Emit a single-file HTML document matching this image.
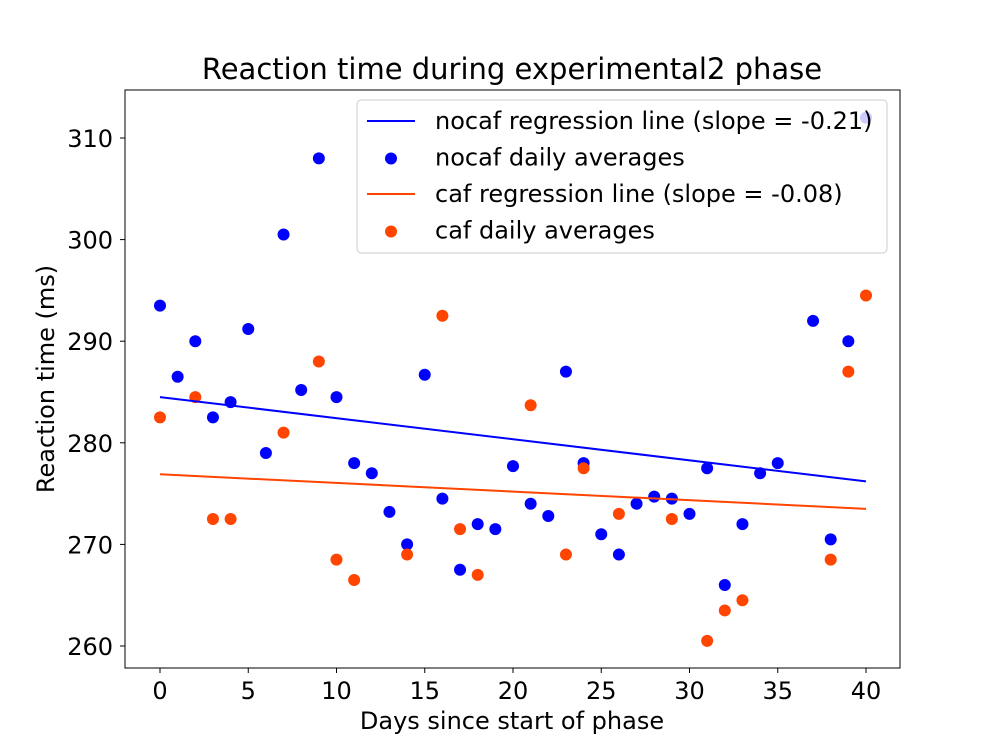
<!DOCTYPE html>
<html><head><meta charset="utf-8"><style>body{margin:0;background:#fff}svg text{font-family:"DejaVu Sans","Liberation Sans",sans-serif}</style></head>
<body>
<svg id="chart" width="1000" height="750">
<text x="512" y="79" font-size="29" text-anchor="middle">Reaction time during experimental2 phase</text>
<g id="plot"></g>
<rect x="125" y="90" width="775" height="578" fill="none" stroke="#000" stroke-width="1"/>
<text x="512" y="729" font-size="24" text-anchor="middle">Days since start of phase</text>
<text transform="translate(54,379) rotate(-90)" font-size="24" text-anchor="middle">Reaction time (ms)</text>
</svg>
<script>
const nocafDays=[0,1,2,3,4,5,6,7,8,9,10,11,12,13,14,15,16,17,18,19,20,21,22,23,24,25,26,27,28,29,30,31,32,33,34,35,37,38,39,40];
const nocafVals=[293.5,286.5,290,282.5,284,291.2,279,300.5,285.2,308,284.5,278,277,273.2,270,286.7,274.5,267.5,272,271.5,277.7,274,272.8,287,278,271,269,274,274.7,274.5,273,277.5,266,272,277,278,292,270.5,290,312];
const cafDays=[0,2,3,4,7,9,10,11,14,16,17,18,21,23,24,26,29,31,32,33,38,39,40];
const cafVals=[282.5,284.5,272.5,272.5,281,288,268.5,266.5,269,292.5,271.5,267,283.7,269,277.5,273,272.5,260.5,263.5,264.5,268.5,287,294.5];
const nocafLine=[284.5,276.2];
const cafLine=[276.9,273.5];
const lineDays=[0,40];
const xTicks=[0,5,10,15,20,25,30,35,40];
const yTicks=[260,270,280,290,300,310];
const X=d=>160+d*(866-160)/40;
const Y=v=>646-(v-260)*(646-138)/50;
const NS="http://www.w3.org/2000/svg";
const svg=document.getElementById('chart');
const plot=document.getElementById('plot');
function mk(t,a,p){const e=document.createElementNS(NS,t);for(const k in a)e.setAttribute(k,a[k]);(p||plot).appendChild(e);return e;}
xTicks.forEach(t=>{
 const l=mk('line',{x1:X(t),x2:X(t),y1:668,y2:673,stroke:'#000'},svg);
 
 
 const tx=mk('text',{x:X(t),y:699,'font-size':24,'text-anchor':'middle'},svg);tx.textContent=t;
 
 
});
yTicks.forEach(t=>{
 const l=mk('line',{x1:120,x2:125,y1:Y(t),y2:Y(t),stroke:'#000'},svg);
 
 
 const tx=mk('text',{x:113,y:Y(t)+9,'font-size':24,'text-anchor':'end'},svg);tx.textContent=t;
 
 
});
nocafDays.forEach((d,i)=>{
 const c=mk('circle',{cx:X(d),cy:Y(nocafVals[i]),r:6,fill:'#0000ff'});
 
 
});
cafDays.forEach((d,i)=>{
 const c=mk('circle',{cx:X(d),cy:Y(cafVals[i]),r:6,fill:'#ff4500'});
 
 
});
const l1=mk('line',{x1:X(lineDays[0]),y1:Y(nocafLine[0]),x2:X(lineDays[1]),y2:Y(nocafLine[1]),stroke:'#0000ff','stroke-width':2});


const l2=mk('line',{x1:X(lineDays[0]),y1:Y(cafLine[0]),x2:X(lineDays[1]),y2:Y(cafLine[1]),stroke:'#ff4500','stroke-width':2});


const lg=mk('g',{},svg);


mk('rect',{x:357,y:100,width:530,height:153,rx:4,fill:'#fff','fill-opacity':0.8,stroke:'#ccc'},lg);
const items=[['line','#0000ff','nocaf regression line (slope = -0.21)'],['dot','#0000ff','nocaf daily averages'],['line','#ff4500','caf regression line (slope = -0.08)'],['dot','#ff4500','caf daily averages']];
items.forEach((it,i)=>{
 const y=121+i*36.5;
 if(it[0]=='line')mk('line',{x1:367,x2:415,y1:y,y2:y,stroke:it[1],'stroke-width':2},lg);
 else mk('circle',{cx:391,cy:y+1,r:6,fill:it[1]},lg);
 const t=mk('text',{x:435,y:y+8,'font-size':24},lg);t.textContent=it[2];
 
 
});
</script>
</body></html>
